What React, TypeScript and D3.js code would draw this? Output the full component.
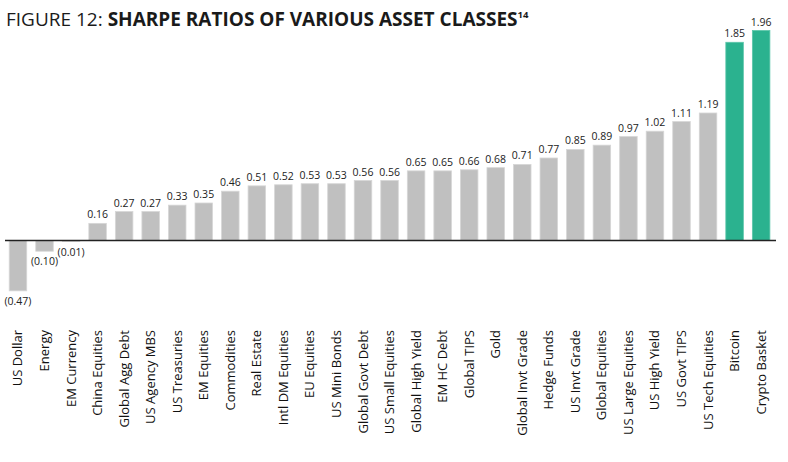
import React from "react";
import * as d3 from "d3";

const categories = [
  "US Dollar", "Energy", "EM Currency", "China Equities", "Global Agg Debt",
  "US Agency MBS", "US Treasuries", "EM Equities", "Commodities", "Real Estate",
  "Intl DM Equities", "EU Equities", "US Mini Bonds", "Global Govt Debt",
  "US Small Equities", "Global High Yield", "EM HC Debt", "Global TIPS", "Gold",
  "Global Invt Grade", "Hedge Funds", "US Invt Grade", "Global Equities",
  "US Large Equities", "US High Yield", "US Govt TIPS", "US Tech Equities",
  "Bitcoin", "Crypto Basket",
];

const sharpe = [
  -0.47, -0.1, -0.01, 0.16, 0.27, 0.27, 0.33, 0.35, 0.46, 0.51, 0.52, 0.53,
  0.53, 0.56, 0.56, 0.65, 0.65, 0.66, 0.68, 0.71, 0.77, 0.85, 0.89, 0.97,
  1.02, 1.11, 1.19, 1.85, 1.96,
];

const highlighted = ["Bitcoin", "Crypto Basket"];

const width = 788;
const height = 462;
const font = "'Open Sans', 'Noto Sans', sans-serif";

export default function App() {
  const x = d3
    .scaleBand<string>()
    .domain(categories)
    .range([4.7, 774.4])
    .paddingInner(0.34)
    .paddingOuter(0.17);

  const y = d3.scaleLinear().domain([0, 1.96]).range([240.5, 30.5]);

  const fmt = (v: number) =>
    v < 0 ? `(${Math.abs(v).toFixed(2)})` : v.toFixed(2);

  return (
    <svg
      width={width}
      height={height}
      style={{ position: "absolute", left: 0, top: 0, background: "#fff" }}
    >
      <text x={6} y={26} fontFamily={font} fontSize={19} fill="#1a1a1a">
        FIGURE 12:{" "}
        <tspan fontWeight="bold">SHARPE RATIOS OF VARIOUS ASSET CLASSES</tspan>
        <tspan fontWeight="bold" fontSize={9.5} dy={-8}>14</tspan>
      </text>

      {categories.map((c, i) => {
        const v = sharpe[i];
        const top = y(Math.max(0, v));
        const bottom = y(Math.min(0, v));
        const cx = (x(c) ?? 0) + x.bandwidth() / 2;
        const hi = highlighted.includes(c);
        return (
          <g key={c}>
            <rect
              x={x(c)}
              y={top}
              width={x.bandwidth()}
              height={Math.max(0, bottom - top)}
              fill={hi ? "#2bb28f" : "#c0c0c0"}
              stroke={hi ? "#5cc6aa" : "#d6d6d6"}
              strokeWidth={0.8}
            />
            <text
              x={cx}
              y={v < 0 ? bottom + 14 : top - 5}
              textAnchor="middle"
              fontFamily={font}
              fontSize={10.5}
              fill="#222"
            >
              {fmt(v)}
            </text>
            <text
              transform={`translate(${cx + 4.5},330) rotate(-90)`}
              textAnchor="end"
              fontFamily={font}
              fontSize={13}
              fill="#111"
            >
              {c}
            </text>
          </g>
        );
      })}

      <line x1={5} x2={776} y1={y(0)} y2={y(0)} stroke="#222" strokeWidth={1.3} />
    </svg>
  );
}
